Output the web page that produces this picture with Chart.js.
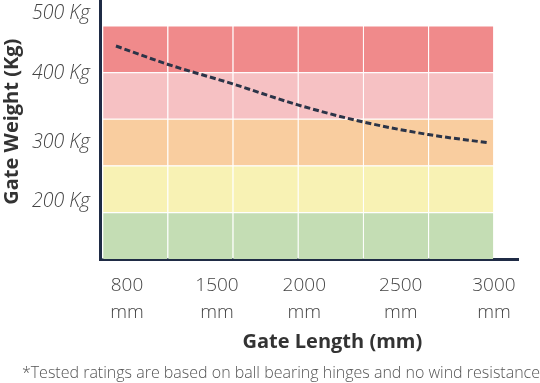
<!DOCTYPE html>
<html>
<head>
<meta charset="utf-8">
<script src="https://cdn.jsdelivr.net/npm/chart.js@4/dist/chart.umd.min.js"></script>
<style>
  html, body { margin: 0; padding: 0; background: #ffffff; }
  canvas { display: block; }
</style>
</head>
<body>
<canvas id="c" width="540" height="383"></canvas>
<script>
// ---- data ----
// x axis in "column" units: six equal grid columns, 0..6
const columnCenters = [0.5, 1.5, 2.5, 3.5, 4.5, 5.5];
// weight bands (band units, bottom to top)
const bandLows  = [0, 1, 2, 3, 4];
const bandHighs = [1, 2, 3, 4, 5];
const bandColors = ['#c4ddb4', '#f8f2b4', '#f9cd9f', '#f6c1c3', '#f08a8b'];

// gate length tick labels and their positions (column units)
const lengthTickLabels = [['800', 'mm'], ['1500', 'mm'], ['2000', 'mm'], ['2500', 'mm'], ['3000', 'mm']];
const lengthTickPos = [0.38, 1.76, 3.10, 4.58, 6.01];

// gate weight tick labels and their positions (band units)
const weightTickLabels = ['500 Kg', '400 Kg', '300 Kg', '200 Kg'];
const weightTickPos = [5.255, 3.969, 2.489, 1.224];

// rated capacity curve (dashed line)
const curveX = [0.21, 1, 2, 3, 4, 5, 5.94];
const curveY = [4.56, 4.17, 3.75, 3.30, 2.935, 2.665, 2.485];

const footnote = '*Tested ratings are based on ball bearing hinges and no wind resistance';

// ---- chart ----
const navy = '#1f2b45';
const datasets = [{
  type: 'line',
  order: 0,
  data: curveX.map((x, i) => ({ x: x, y: curveY[i] })),
  borderColor: '#2b3448',
  borderWidth: 3,
  borderDash: [6, 3],
  pointRadius: 0,
  fill: false,
  cubicInterpolationMode: 'monotone'
}];
bandLows.forEach((lo, b) => {
  datasets.push({
    type: 'bar',
    order: 1,
    grouped: false,
    data: columnCenters.map(cx => ({ x: cx, y: [lo, bandHighs[b]] })),
    backgroundColor: bandColors[b],
    borderColor: 'rgba(255,255,255,0.8)',
    borderWidth: { top: 1, left: 1, right: 0, bottom: 0 },
    borderSkipped: false,
    inflateAmount: 0,
    barPercentage: 1,
    categoryPercentage: 1
  });
});

new Chart(document.getElementById('c'), {
  type: 'bar',
  data: { datasets: datasets },
  options: {
    responsive: false,
    devicePixelRatio: 1,
    animation: false,
    layout: { padding: 0 },
    plugins: {
      legend: { display: false },
      tooltip: { enabled: false },
      title: {
        display: true,
        position: 'bottom',
        align: 'end',
        text: footnote,
        color: '#555555',
        font: { family: 'Open Sans', size: 16, weight: 300, lineHeight: 1.25 },
        padding: 0
      }
    },
    scales: {
      x: {
        type: 'linear',
        position: 'bottom',
        min: -0.035,
        max: 6.379,
        offset: false,
        grid: { display: false, drawTicks: false, tickLength: 0 },
        border: { display: true, color: navy, width: 3 },
        afterBuildTicks: (s) => { s.ticks = lengthTickPos.map(v => ({ value: v })); },
        afterFit: (s) => { s.height = 104; s.paddingLeft = 0; s.paddingRight = 0; },
        ticks: {
          autoSkip: false,
          maxRotation: 0,
          minRotation: 0,
          padding: 13,
          color: '#444444',
          font: { family: 'Open Sans', size: 19, weight: 300, lineHeight: 1.42 },
          callback: (v, i) => lengthTickLabels[i]
        },
        title: {
          display: true,
          text: '         Gate Length (mm)',
          color: '#333333',
          font: { family: 'Open Sans', size: 20, weight: 'bold', lineHeight: 1.2 },
          padding: { top: 0, bottom: 9 }
        }
      },
      y: {
        type: 'linear',
        position: 'left',
        min: 0,
        max: 5.545,
        grid: { display: false, drawTicks: false, tickLength: 0 },
        border: { display: true, color: navy, width: 3 },
        afterBuildTicks: (s) => { s.ticks = weightTickPos.map(v => ({ value: v })); },
        afterFit: (s) => { s.width = 100; s.paddingTop = 0; s.paddingBottom = 0; },
        ticks: {
          autoSkip: false,
          padding: 10,
          color: '#444444',
          font: { family: 'Open Sans', size: 19.5, style: 'italic', weight: 300, lineHeight: 1.2 },
          callback: (v, i) => weightTickLabels[i]
        },
        title: {
          display: true,
          text: '   Gate Weight (Kg)',
          color: '#333333',
          font: { family: 'Open Sans', size: 20, weight: 'bold', lineHeight: 1.2 },
          padding: 0
        }
      },
      yR: {
        type: 'linear',
        position: 'right',
        display: true,
        grid: { display: false, drawTicks: false },
        border: { display: false },
        ticks: { display: false },
        afterFit: (s) => { s.width = 22; s.paddingTop = 0; s.paddingBottom = 0; }
      }
    }
  }
});
</script>
</body>
</html>
